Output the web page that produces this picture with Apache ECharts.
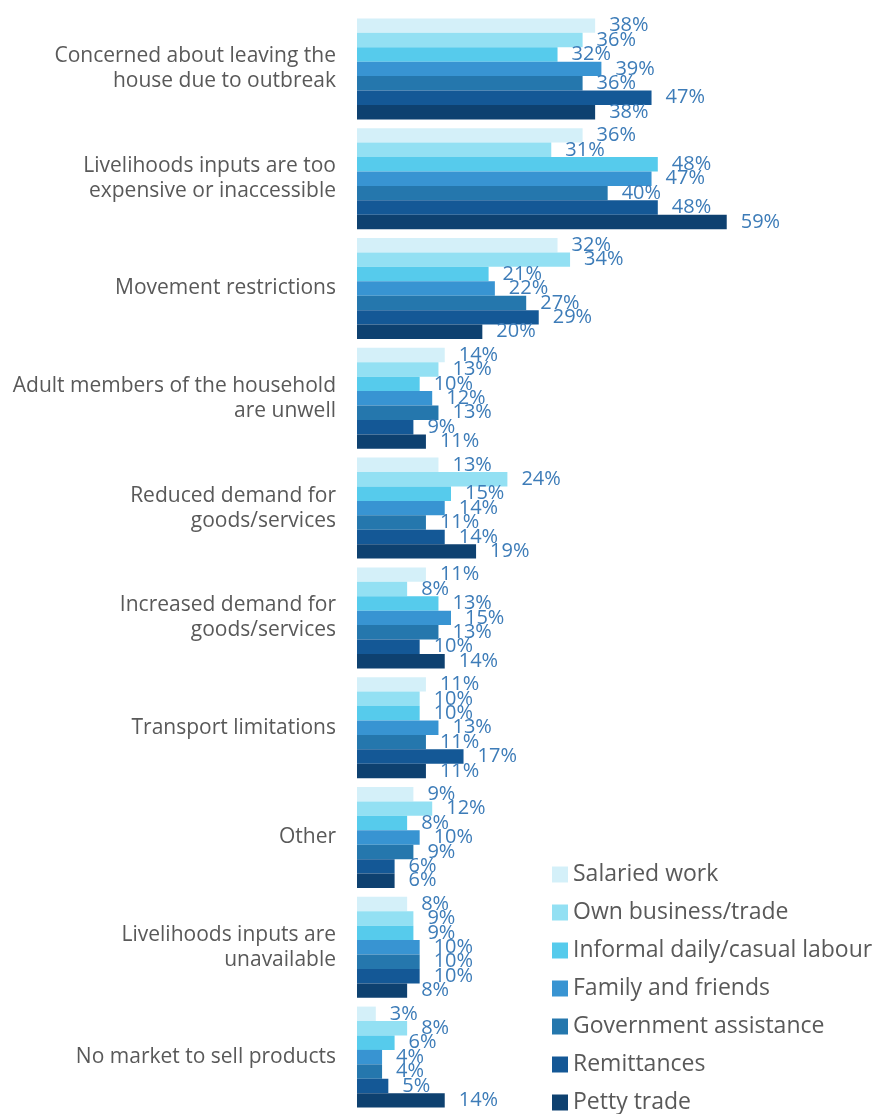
<!DOCTYPE html>
<html>
<head>
<meta charset="utf-8">
<script src="https://cdn.jsdelivr.net/npm/echarts@6/dist/echarts.min.js"></script>
<style>
  html, body { margin: 0; padding: 0; background: #fff; }
  #main { width: 881px; height: 1114px; }
</style>
</head>
<body>
<div id="main"></div>
<script>
// categories, top to bottom
var categories = [
  'Concerned about leaving the\nhouse due to outbreak',
  'Livelihoods inputs are too\nexpensive or inaccessible',
  'Movement restrictions',
  'Adult members of the household\nare unwell',
  'Reduced demand for\ngoods/services',
  'Increased demand for\ngoods/services',
  'Transport limitations',
  'Other',
  'Livelihoods inputs are\nunavailable',
  'No market to sell products'
];

var seriesNames = [
  'Salaried work',
  'Own business/trade',
  'Informal daily/casual labour',
  'Family and friends',
  'Government assistance',
  'Remittances',
  'Petty trade'
];

// values in %, one array per livelihood source
var salaried   = [38, 36, 32, 14, 13, 11, 11, 9, 8, 3];
var ownBiz     = [36, 31, 34, 13, 24, 8, 10, 12, 9, 8];
var informal   = [32, 48, 21, 10, 15, 13, 10, 8, 9, 6];
var family     = [39, 47, 22, 12, 14, 15, 13, 10, 10, 4];
var government = [36, 40, 27, 13, 11, 13, 11, 9, 10, 4];
var remittance = [47, 48, 29, 9, 14, 10, 17, 6, 10, 5];
var pettyTrade = [38, 59, 20, 11, 19, 14, 11, 6, 8, 14];

var colors = ['#d4f0f9', '#93e0f3', '#56cbec', '#3894d2', '#2577ad', '#145896', '#0e4170'];

var allData = [salaried, ownBiz, informal, family, government, remittance, pettyTrade];

var chart = echarts.init(document.getElementById('main'));

var series = allData.map(function (d, i) {
  return {
    name: seriesNames[i],
    type: 'bar',
    data: d,
    barGap: '0%',
    barCategoryGap: '8%',
    itemStyle: { color: colors[i] },
    label: {
      show: true,
      position: 'right',
      distance: 14,
      formatter: '{c}%',
      color: '#3d7cb8',
      fontSize: 20,
      fontFamily: 'Open Sans'
    }
  };
});

chart.setOption({
  animation: false,
  color: colors,
  grid: { left: 357, top: 14, right: 148, bottom: 2 },
  legend: {
    orient: 'vertical',
    left: 547,
    top: 858,
    height: 260,
    itemWidth: 16,
    itemHeight: 16,
    itemGap: 15,
    icon: 'rect',
    data: seriesNames,
    textStyle: { color: '#595959', fontSize: 23, fontFamily: 'Open Sans' }
  },
  xAxis: {
    type: 'value',
    min: 0,
    max: 60,
    show: false
  },
  yAxis: {
    type: 'category',
    inverse: true,
    data: categories,
    axisLine: { show: false },
    axisTick: { show: false },
    axisLabel: {
      color: '#595959',
      fontSize: 21,
      fontFamily: 'Open Sans',
      lineHeight: 25,
      margin: 21
    }
  },
  series: series
});
</script>
</body>
</html>
